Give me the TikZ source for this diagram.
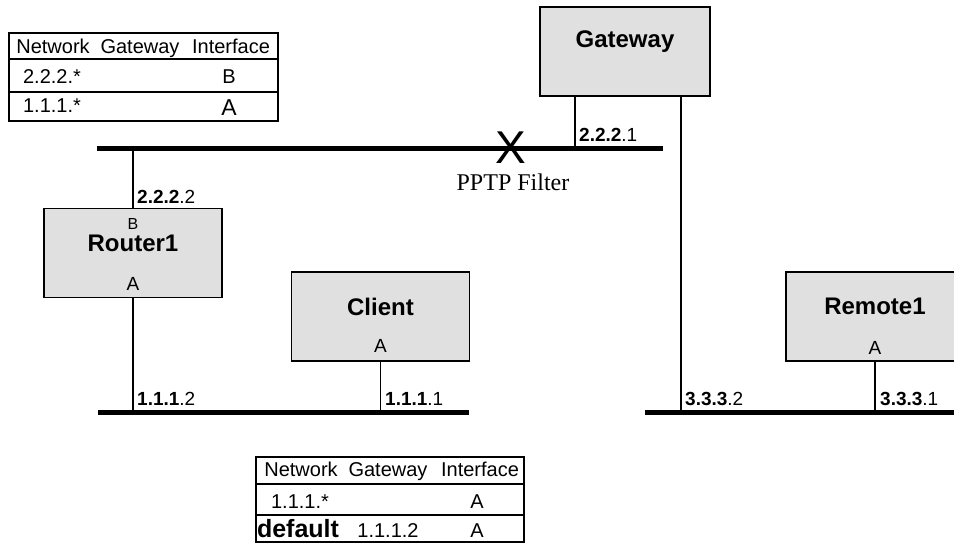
\documentclass[tikz,border=0pt]{standalone}
\usepackage{fontspec}
\setmainfont{Liberation Sans}
\newfontfamily\filterfont{Liberation Serif}
\definecolor{boxgray}{HTML}{E0E0E0}
\tikzset{
  host/.style={draw,fill=boxgray,line width=1.6pt,minimum width=178pt,minimum height=89pt,inner sep=0pt},
  hostname/.style={font=\bfseries\fontsize{24}{26}\selectfont,inner sep=0pt},
  port/.style={font=\fontsize{19}{20}\selectfont,inner sep=0pt},
  addr/.style={anchor=base west,font=\fontsize{19}{20}\selectfont,inner sep=0pt},
  cell/.style={anchor=base,font=\fontsize{20}{22}\selectfont,inner sep=0pt},
  bus/.style={line width=5pt},
  link/.style={line width=1.3pt},
  tbl/.style={line width=1.6pt},
}
\begin{document}
\begin{tikzpicture}[x=1pt,y=-1pt]
\useasboundingbox (0,0) rectangle (954,546);
\clip (0,0) rectangle (954,546);

\coordinate (wanL) at (97,148);
\coordinate (wanR) at (663,148);
\coordinate (lanL) at (98,412);
\coordinate (lanR) at (469,412);
\coordinate (remL) at (645,412);
\coordinate (remR) at (960,412);

\node[host,minimum width=170pt] (gw) at (625,51.5) {};
\node[host] (rtr) at (133,253) {};
\node[host] (cli) at (380.5,316.5) {};
\node[host] (rem) at (875,316.5) {};

\node[hostname] (gwname) at ([yshift=10pt]gw.center) {Gateway};
\node[hostname] (rtrname) at ([yshift=10pt]rtr.center) {Router1};
\node[hostname] (cliname) at ([yshift=10pt]cli.center) {Client};
\node[hostname] (remname) at ([yshift=10pt]rem.center) {Remote1};

\node[port,font=\fontsize{16}{18}\selectfont] (rtrB) at ([yshift=-16pt]rtr.north) {B};
\node[port] (rtrA) at ([yshift=14pt]rtr.south) {A};
\node[port] (cliA) at ([yshift=16pt]cli.south) {A};
\node[port] (remA) at ([yshift=14pt]rem.south) {A};

% networks
\draw[bus] (wanL) -- (wanR);
\draw[bus] (lanL) -- (lanR);
\draw[bus] (remL) -- (remR);

\coordinate (gwW) at ([xshift=-50pt]gw.south);
\coordinate (gwE) at ([xshift=56pt]gw.south);
\draw[link] (gwW) -- (gwW |- wanL);
\draw[link] (gwE) -- (gwE |- remL);
\draw[link] (rtr.north) -- (rtr.north |- wanL);
\draw[link] (rtr.south) -- (rtr.south |- lanL);
\draw[link] (cli.south) -- (cli.south |- lanL);
\draw[link] (rem.south) -- (rem.south |- remL);

\node[addr] (a2221) at (579,141.5) {\textbf{2.2.2}.1};
\node[addr] (a2222) at (137,203) {\textbf{2.2.2}.2};
\node[addr] (a1112) at (137,405.5) {\textbf{1.1.1}.2};
\node[addr] (a1111) at (385,405.5) {\textbf{1.1.1}.1};
\node[addr] (a3332) at (685,405.5) {\textbf{3.3.3}.2};
\node[addr] (a3331) at (880,405.5) {\textbf{3.3.3}.1};

\node[font=\fontsize{46}{46}\selectfont,inner sep=0pt] (cross) at (511,148) {X};
\node[font=\filterfont\fontsize{24}{26}\selectfont,inner sep=0pt] (filter) at (513,182) {PPTP Filter};

% routing table of Router1
\draw[tbl] (9,33) rectangle (278,121);
\draw[tbl] (9,59) -- (278,59);
\draw[tbl] (9,92) -- (278,92);
\node[cell] (t1net) at (53,53) {Network};
\node[cell] (t1gw) at (140,53) {Gateway};
\node[cell] (t1if) at (231,53) {Interface};
\node[cell] (t1n1) at (52,83) {2.2.2.*};
\node[cell] (t1i1) at (229,83) {B};
\node[cell] (t1n2) at (52,112) {1.1.1.*};
\node[cell,font=\fontsize{23}{24}\selectfont] (t1i2) at (229,115) {A};

% routing table of Client
\draw[tbl] (256,457) rectangle (524,542);
\draw[tbl] (256,484) -- (524,484);
\draw[tbl] (256,515) -- (524,515);
\node[cell] (t2net) at (301,476) {Network};
\node[cell] (t2gw) at (388,476) {Gateway};
\node[cell] (t2if) at (480,476) {Interface};
\node[cell] (t2n1) at (300,508) {1.1.1.*};
\node[cell] (t2i1) at (477,508) {A};
\node[cell,font=\bfseries\fontsize{25}{26}\selectfont] (t2n2) at (298,537) {default};
\node[cell] (t2g2) at (388,537) {1.1.1.2};
\node[cell] (t2i2) at (477,537) {A};
\end{tikzpicture}
\end{document}
